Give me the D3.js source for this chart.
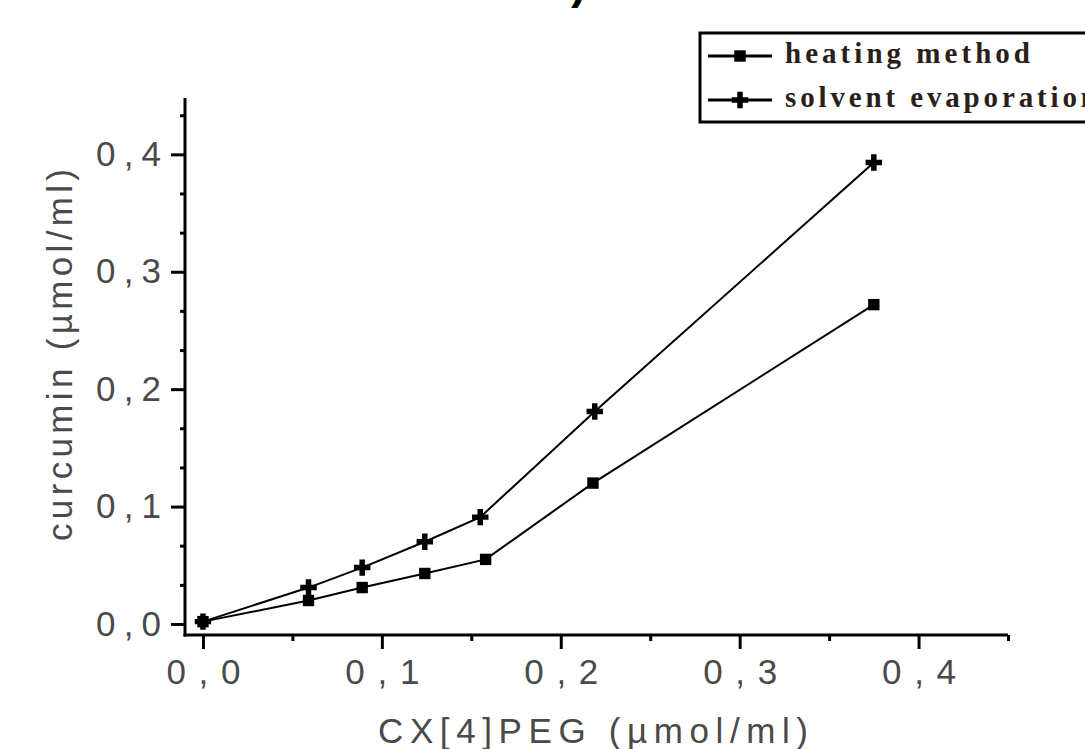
<!DOCTYPE html>
<html>
<head>
<meta charset="utf-8">
<script src="https://cdn.jsdelivr.net/npm/d3@7"></script>
<style>
  body { margin: 0; background: #fff; }
  svg { display: block; }
</style>
</head>
<body>
<div id="chart"></div>
<script>
// Data
////////////////////////////////////////
var seriesNames = ["heating method", "solvent evaporation"];

// x = CX[4]PEG (umol/ml)
var heatingX = [0.0, 0.059, 0.089, 0.124, 0.158, 0.218, 0.375];
var heatingY = [0.002, 0.020, 0.031, 0.043, 0.055, 0.120, 0.272];

var solventX = [0.0, 0.059, 0.089, 0.124, 0.155, 0.219, 0.375];
var solventY = [0.002, 0.031, 0.048, 0.070, 0.091, 0.181, 0.393];

var xMajorTicks = [0, 0.1, 0.2, 0.3, 0.4];
var xMinorTicks = [0.05, 0.15, 0.25, 0.35, 0.45];
var yMajorTicks = [0, 0.1, 0.2, 0.3, 0.4];
var yMinorTicks = [0.0333, 0.0667, 0.1333, 0.1667, 0.2333, 0.2667, 0.3333, 0.3667, 0.4333];

var xTitle = "CX[4]PEG (\u00b5mol/ml)";
var yTitle = "curcumin (\u00b5mol/ml)";

// SVG area
////////////////////////////////////////
var svgWidth = 1085;
var svgHeight = 749;

var plotLeft = 185, plotRight = 1008, plotTop = 98, plotBottom = 635;

var svg = d3.select("#chart")
  .append("svg")
  .attr("width", svgWidth)
  .attr("height", svgHeight);

// scales
var x = d3.scaleLinear().domain([-0.0106, 0.45]).range([184, plotRight]);
var y = d3.scaleLinear().domain([-0.0094, 0.448]).range([plotBottom, plotTop]);

var fmt = d => d3.format(".1f")(d).replace(".", ",");
var tickColor = "#4a4a4a";

// partial title glyph cut off at the top
svg.append("text")
  .attr("x", 571).attr("y", -2)
  .style("font-family", "Liberation Sans, Arial, sans-serif")
  .style("font-size", "46px")
  .style("font-weight", "bold")
  .text(")");

// x axis
var xAxisMajor = d3.axisBottom(x).tickValues(xMajorTicks).tickSize(14).tickSizeOuter(0)
  .tickPadding(10).tickFormat(fmt);
var xAxisMinor = d3.axisBottom(x).tickValues(xMinorTicks).tickSize(6).tickSizeOuter(0)
  .tickFormat("");

var gx = svg.append("g").attr("transform", `translate(0, ${plotBottom})`).call(xAxisMajor);
svg.append("g").attr("transform", `translate(0, ${plotBottom})`).call(xAxisMinor);

// y axis
var yAxisMajor = d3.axisLeft(y).tickValues(yMajorTicks).tickSize(14).tickSizeOuter(0)
  .tickPadding(10).tickFormat(fmt);
var yAxisMinor = d3.axisLeft(y).tickValues(yMinorTicks).tickSize(5).tickSizeOuter(0)
  .tickFormat("");

var gy = svg.append("g").attr("transform", `translate(${plotLeft}, 0)`).call(yAxisMajor);
svg.append("g").attr("transform", `translate(${plotLeft}, 0)`).call(yAxisMinor);

svg.selectAll(".domain").remove();
svg.selectAll(".tick line").attr("stroke", "#000").attr("stroke-width", 3);

gx.selectAll(".tick text")
  .attr("fill", tickColor)
  .style("font-family", "Liberation Sans, Arial, sans-serif")
  .style("font-size", "35px")
  .attr("textLength", 74)
  .attr("lengthAdjust", "spacing");

gy.selectAll(".tick text")
  .attr("fill", tickColor)
  .style("font-family", "Liberation Sans, Arial, sans-serif")
  .style("font-size", "35px")
  .attr("textLength", 65)
  .attr("lengthAdjust", "spacing");

// axis lines
svg.append("line")
  .attr("x1", plotLeft).attr("x2", plotLeft)
  .attr("y1", plotTop).attr("y2", plotBottom + 1.5)
  .attr("stroke", "#000").attr("stroke-width", 3);
svg.append("line")
  .attr("x1", plotLeft - 1.5).attr("x2", plotRight)
  .attr("y1", plotBottom).attr("y2", plotBottom)
  .attr("stroke", "#000").attr("stroke-width", 3);

// axis titles
svg.append("text")
  .attr("x", 593).attr("y", 743)
  .attr("text-anchor", "middle")
  .attr("fill", tickColor)
  .style("font-family", "Liberation Sans, Arial, sans-serif")
  .style("font-size", "35px")
  .attr("textLength", 430)
  .attr("lengthAdjust", "spacing")
  .text(xTitle);

svg.append("text")
  .attr("transform", "translate(72, 355) rotate(-90)")
  .attr("text-anchor", "middle")
  .attr("fill", tickColor)
  .style("font-family", "Liberation Sans, Arial, sans-serif")
  .style("font-size", "35px")
  .attr("textLength", 372)
  .attr("lengthAdjust", "spacing")
  .text(yTitle);

// series
var heating = heatingX.map((d, i) => ({x: d, y: heatingY[i]}));
var solvent = solventX.map((d, i) => ({x: d, y: solventY[i]}));

var line = d3.line().x(d => x(d.x)).y(d => y(d.y));

svg.append("path").datum(heating)
  .attr("d", line).attr("fill", "none").attr("stroke", "#000").attr("stroke-width", 2);
svg.append("path").datum(solvent)
  .attr("d", line).attr("fill", "none").attr("stroke", "#000").attr("stroke-width", 2);

var squareSym = d3.symbol().type(d3.symbolSquare).size(130);
var crossSym = d3.symbol().type(d3.symbolCross).size(150);

svg.selectAll(".sq").data(heating).enter().append("path")
  .attr("class", "sq")
  .attr("transform", d => `translate(${x(d.x)}, ${y(d.y)})`)
  .attr("d", squareSym).attr("fill", "#000");

svg.selectAll(".cr").data(solvent).enter().append("path")
  .attr("class", "cr")
  .attr("transform", d => `translate(${x(d.x)}, ${y(d.y)})`)
  .attr("d", crossSym).attr("fill", "#000");

// legend
var legend = svg.append("g");
legend.append("rect")
  .attr("x", 700).attr("y", 33).attr("width", 400).attr("height", 89)
  .attr("fill", "#fff").attr("stroke", "#000").attr("stroke-width", 3);

var legendRows = [
  {name: seriesNames[0], sym: squareSym, y: 56, len: 245},
  {name: seriesNames[1], sym: crossSym, y: 100, len: 312}
];

legendRows.forEach(function(r) {
  legend.append("line")
    .attr("x1", 708).attr("x2", 772).attr("y1", r.y).attr("y2", r.y)
    .attr("stroke", "#000").attr("stroke-width", 3);
  legend.append("path")
    .attr("transform", `translate(740, ${r.y})`)
    .attr("d", r.sym).attr("fill", "#000");
  legend.append("text")
    .attr("x", 785).attr("y", r.y + 7)
    .attr("fill", "#2a2018")
    .style("font-family", "Liberation Serif, Times New Roman, serif")
    .style("font-size", "29px")
    .style("font-weight", "bold")
    .attr("textLength", r.len)
    .attr("lengthAdjust", "spacing")
    .text(r.name);
});
</script>
</body>
</html>
